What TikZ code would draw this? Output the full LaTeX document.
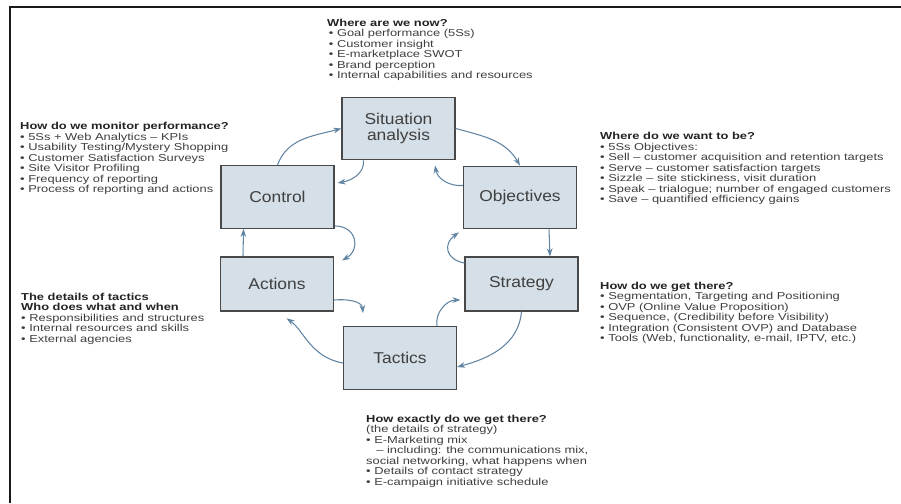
\documentclass[tikz,border=0pt]{standalone}
\usepackage{fontspec}
\setmainfont{Liberation Sans}[FakeStretch=1.28]
\newfontfamily\boxfont{Liberation Sans}[FakeStretch=1.11]
\usepackage{xcolor}
\usetikzlibrary{arrows.meta,calc}
\definecolor{sosboxfill}{RGB}{212,223,231}
\definecolor{sosboxline}{RGB}{72,72,72}
\definecolor{sosarrow}{RGB}{96,132,162}
\definecolor{sosnote}{RGB}{62,62,62}
\definecolor{sostitle}{RGB}{35,35,35}

\begin{document}
\begin{tikzpicture}[x=.03cm,y=.03cm,
  font=\fontsize{8.6}{9}\selectfont,
  stage/.style={draw=sosboxline,line width=1pt,fill=sosboxfill,align=center,inner sep=0pt,
    font=\boxfont\fontsize{13.4}{13.6}\selectfont,text=black!75,minimum width=3.39cm,minimum height=1.88cm},
  low/.style={minimum height=1.62cm},
  notes/.style={anchor=north west,align=left,inner sep=0pt,text=sosnote},
  head/.style={font=\fontsize{8.6}{9}\selectfont\bfseries},
  flow/.style={-{Stealth[length=2.4mm,width=1.7mm]},draw=sosarrow,line width=.9pt}]

\path[use as bounding box] (0,0) rectangle (901,503);
\draw[line width=1.5pt,black!90] (10,0)--(10,496)--(901,496);

\node[stage] (situation) at (398.5,374.5) {Situation\\analysis};
\node[stage] (control) at (277.5,306) {Control};
\node[stage] (objectives) at (520,305.5) {Objectives};
\node[stage,low] (actions) at (277,219) {Actions};
\node[stage,low] (strategy) at (521.5,219) {Strategy};
\node[stage] (tactics) at (400,145) {Tactics};

\node[notes] (nowtext) at (327,484.5)
  {\textcolor{sostitle}{\textbf{Where are we now?}}\\
   \,\textbullet\ Goal performance (5Ss)\\
   \,\textbullet\ Customer insight\\
   \,\textbullet\ E-marketplace SWOT\\
   \,\textbullet\ Brand perception\\
   \,\textbullet\ Internal capabilities and resources};
\node[notes] (monitortext) at (20,381)
  {\textcolor{sostitle}{\textbf{How do we monitor performance?}}\\
   \textbullet\ 5Ss + Web Analytics -- KPIs\\
   \textbullet\ Usability Testing/Mystery Shopping\\
   \textbullet\ Customer Satisfaction Surveys\\
   \textbullet\ Site Visitor Profiling\\
   \textbullet\ Frequency of reporting\\
   \textbullet\ Process of reporting and actions};
\node[notes] (wanttext) at (600,371)
  {\textcolor{sostitle}{\textbf{Where do we want to be?}}\\
   \textbullet\ 5Ss Objectives:\\
   \textbullet\ Sell -- customer acquisition and retention targets\\
   \textbullet\ Serve -- customer satisfaction targets\\
   \textbullet\ Sizzle -- site stickiness, visit duration\\
   \textbullet\ Speak -- trialogue; number of engaged customers\\
   \textbullet\ Save -- quantified efficiency gains};
\node[notes] (gettext) at (600,221.5)
  {\textcolor{sostitle}{\textbf{How do we get there?}}\\
   \textbullet\ Segmentation, Targeting and Positioning\\
   \textbullet\ OVP (Online Value Proposition)\\
   \textbullet\ Sequence, (Credibility before Visibility)\\
   \textbullet\ Integration (Consistent OVP) and Database\\
   \textbullet\ Tools (Web, functionality, e-mail, IPTV, etc.)};
\node[notes] (tacticstext) at (21,210.5)
  {\textcolor{sostitle}{\textbf{The details of tactics}}\\
   \textcolor{sostitle}{\textbf{Who does what and when}}\\
   \textbullet\ Responsibilities and structures\\
   \textbullet\ Internal resources and skills\\
   \textbullet\ External agencies};
\node[notes] (exacttext) at (366,88.5)
  {\textcolor{sostitle}{\textbf{How exactly do we get there?}}\\
   (the details of strategy)\\
   \textbullet\ E-Marketing mix\\
   \quad-- including: the communications mix,\\
   social networking, what happens when\\
   \textbullet\ Details of contact strategy\\
   \textbullet\ E-campaign initiative schedule};

\draw[flow] (control.north) to[out=70,in=195] (situation.west);
\draw[flow] (situation.east) to[out=-15,in=120] (objectives.north);
\draw[flow] ($(objectives.south)+(29,0)$) -- ($(strategy.north)+(28.5,0)$);
\draw[flow] (strategy.south) to[out=-95,in=15] ($(tactics.east)+(0,-9)$);
\draw[flow,shorten >=10pt] ($(tactics.west)+(0,-5)$) to[out=170,in=-35] (actions.south);
\draw[flow] ($(actions.north)+(-34,0)$) -- ($(control.south)+(-34,0)$);

\draw[flow] ($(situation.south)+(-35,0)$) to[out=-85,in=10] ($(control.east)+(3,14)$);
\draw[flow] ($(objectives.west)+(0,12)$) to[out=185,in=-80] ($(situation.south)+(36.5,-5)$);
\draw[flow] ($(strategy.west)+(0,21)$) to[out=170,in=215,looseness=1.6] ($(objectives.south west)+(-4,-3)$);
\draw[flow] ($(tactics.north)+(37,0)$) to[out=100,in=180] ($(strategy.west)+(-4,-16)$);
\draw[flow] ($(actions.east)+(0,-16)$) to[out=5,in=95] ($(tactics.north)+(-37,13)$);
\draw[flow] ($(control.south east)+(0,3)$) to[out=0,in=30,looseness=1.6] ($(actions.north east)+(8,-4)$);

\end{tikzpicture}
\end{document}
